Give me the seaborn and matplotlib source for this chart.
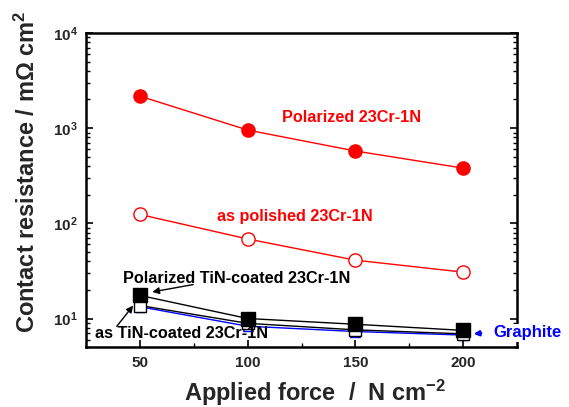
import matplotlib
matplotlib.use("Agg")
import matplotlib.pyplot as plt
import seaborn as sns
import pandas as pd
from matplotlib.ticker import LogLocator, FixedLocator, NullFormatter

force = [50, 100, 150, 200]
polarized_23cr = [2170, 955, 575, 380]
polished_23cr = [124, 68.5, 41, 30.7]
polarized_tin = [17.5, 10.0, 8.7, 7.5]
as_tin = [13.7, 8.9, 7.6, 6.9]
graphite = [13.3, 8.3, 7.3, 6.7]

sns.set_theme(style="ticks")
plt.rcParams['font.family'] = ['Liberation Sans', 'DejaVu Sans']
plt.rcParams['font.weight'] = 'bold'
plt.rcParams['mathtext.fontset'] = 'custom'
plt.rcParams['mathtext.rm'] = 'Liberation Sans:bold'
plt.rcParams['mathtext.bf'] = 'Liberation Sans:bold'
plt.rcParams['mathtext.it'] = 'Liberation Sans:bold'
plt.rcParams['mathtext.default'] = 'bf'

fig = plt.figure(figsize=(5.69, 4.07), dpi=100)
ax = fig.add_axes([0.151, 0.147, 0.758, 0.772])

def draw(vals, marker, ms, mfc, mec, lc, z):
    df = pd.DataFrame({"force": force, "val": vals})
    sns.lineplot(data=df, x="force", y="val", ax=ax, color=lc, lw=1.0,
                 marker=marker, markersize=ms, markerfacecolor=mfc,
                 markeredgecolor=mec, markeredgewidth=1.0, zorder=z)

draw(graphite, "^", 7, "white", "blue", "blue", 2)
draw(as_tin, "s", 8.5, "white", "black", "black", 3)
draw(polarized_tin, "s", 9.5, "black", "black", "black", 4)
draw(polished_23cr, "o", 9.5, "white", "red", "red", 3)
draw(polarized_23cr, "o", 9.5, "red", "red", "red", 3)

ax.set_yscale("log")
ax.set_xlim(25, 225)
ax.set_ylim(5, 1e4)
ax.xaxis.set_major_locator(FixedLocator(force))
ax.xaxis.set_minor_locator(FixedLocator([75, 125, 175]))
ax.set_xticklabels([str(v) for v in force])
ax.yaxis.set_major_locator(FixedLocator([10, 100, 1000, 10000]))
ax.set_yticklabels([r"$\mathbf{10^{1}}$", r"$\mathbf{10^{2}}$", r"$\mathbf{10^{3}}$", r"$\mathbf{10^{4}}$"])
ax.yaxis.set_minor_locator(LogLocator(base=10, subs=range(2, 10)))
ax.yaxis.set_minor_formatter(NullFormatter())

ax.tick_params(axis="both", which="both", direction="in", color="black")
ax.tick_params(axis="y", which="both", right=True)
ax.tick_params(axis="both", which="major", length=5, width=1.2, labelsize=11, pad=6)
ax.tick_params(axis="both", which="minor", length=3, width=1.0)
for lab in ax.get_xticklabels() + ax.get_yticklabels():
    lab.set_fontweight("bold")
for s in ax.spines.values():
    s.set_linewidth(1.8)
    s.set_color("black")

ax.set_xlabel(r"Applied force  /  N cm$^{\mathbf{-2}}$", fontsize=17, fontweight="bold")
ax.set_ylabel(r"Contact resistance / m$\Omega$ cm$^{\mathbf{2}}$", fontsize=17, fontweight="bold")
ax.xaxis.set_label_coords(0.532, -0.097)
ax.yaxis.set_label_coords(-0.106, 0.56)

ax.text(116, 1300, "Polarized 23Cr-1N", color="red", fontsize=11.7, fontweight="bold", va="center")
ax.text(86, 118, "as polished 23Cr-1N", color="red", fontsize=11.7, fontweight="bold", va="center")
ax.text(42, 26.4, "Polarized TiN-coated 23Cr-1N", color="black", fontsize=11.7,
        fontweight="bold", va="center", zorder=6)
ax.annotate("", xy=(54.5, 18.8), xytext=(76, 23.0),
            arrowprops=dict(arrowstyle="-|>", color="black", lw=1.0, mutation_scale=10), zorder=6)
ax.text(29.2, 6.95, "as TiN-coated 23Cr-1N", color="black", fontsize=11.7,
        fontweight="bold", va="center", zorder=6)
ax.annotate("", xy=(47.7, 14.4), xytext=(38.5, 7.85),
            arrowprops=dict(arrowstyle="-|>", color="black", lw=1.0, mutation_scale=10), zorder=6)
ax.text(214, 7.1, "Graphite", color="blue", fontsize=12, fontweight="bold", va="center",
        clip_on=False, zorder=10,
        bbox=dict(facecolor="white", edgecolor="none", pad=1.0))
ax.annotate("", xy=(203.5, 6.85), xytext=(209.5, 7.05),
            arrowprops=dict(arrowstyle="-|>", color="blue", lw=1.8, mutation_scale=7),
            annotation_clip=False, zorder=6)

fig.savefig("out.png", dpi=100)
